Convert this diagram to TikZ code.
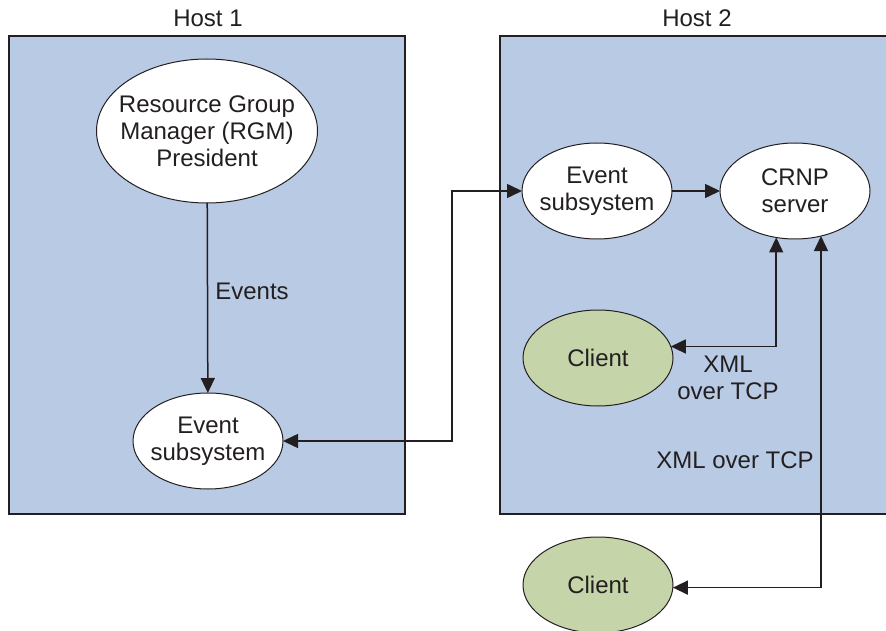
\documentclass[tikz,border=0pt]{standalone}
\usepackage{fontspec}
\setmainfont{Liberation Sans}
\usetikzlibrary{shapes.geometric,arrows.meta}
\definecolor{hostblue}{HTML}{B9CBE4}
\definecolor{clientgreen}{HTML}{C5D5A9}
\definecolor{ink}{HTML}{231F20}
\tikzset{
  hostbox/.style={draw=ink, line width=2.5pt, fill=hostblue},
  oval/.style={ellipse, draw=ink, line width=1pt, fill=white, inner sep=-12pt, outer sep=0pt,
    minimum width=150pt, minimum height=96pt, align=center, text=ink},
  clientoval/.style={oval, fill=clientgreen},
  lbl/.style={align=center, text=ink, inner sep=0pt},
  conn/.style={draw=ink, line width=1.5pt, -{Triangle[length=15pt,width=14pt]}},
  dconn/.style={draw=ink, line width=1.5pt, {Triangle[length=15pt,width=14pt]}-{Triangle[length=15pt,width=14pt]}},
}
\begin{document}
\begin{tikzpicture}[x=1pt,y=-1pt,font=\fontsize{24}{27}\selectfont]
\useasboundingbox (0,0) rectangle (886,631);
\clip (0,0) rectangle (886,631);
\fill[white] (0,0) rectangle (886,631);
% host boxes
\path[hostbox] (9,36) rectangle (405,514);
\path[hostbox] (500,36) rectangle (900,514);
\node[lbl] (h1) at (208,18) {Host 1};
\node[lbl] (h2) at (697,18) {Host 2};
% nodes
\node[oval, minimum width=221pt, minimum height=144pt] (rgm) at (207,131) {Resource Group\\Manager (RGM)\\President};
\node[oval] (ev1) at (208,441) {Event\\subsystem};
\node[oval] (ev2) at (597,191) {Event\\subsystem};
\node[oval] (crnp) at (795,191) {CRNP\\server};
\node[clientoval] (cl1) at (598,358) {Client};
\node[clientoval] (cl2) at (598,585) {Client};
% connectors
\draw[conn] (rgm) -- (ev1);
\node[lbl] (evlbl) at (252,291) {Events};
\coordinate (j1) at (452,316);
\draw[dconn] (ev1.east) -- (ev1.east -| j1) -- (ev2.west -| j1) -- (ev2.west);
\draw[conn] (ev2) -- (crnp);
\draw[dconn] (cl1.9) -| (crnp.-112);
\draw[dconn] (cl2.-2) -| (crnp.-60);
\node[lbl] (x1) at (728,378) {XML\\over TCP};
\node[lbl] (x2) at (735,460) {XML over TCP};
\end{tikzpicture}
\end{document}
